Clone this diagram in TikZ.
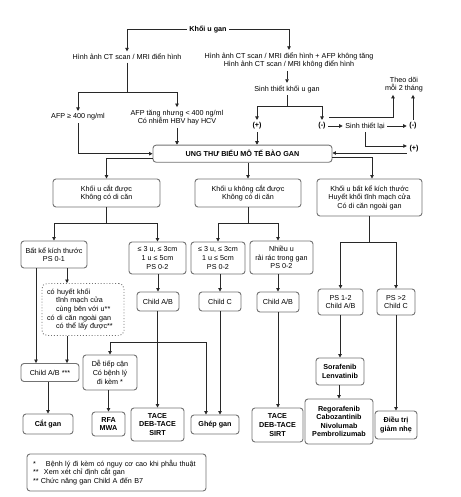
\documentclass[tikz,border=0pt]{standalone}
\usepackage{fontspec}
\setmainfont{Liberation Sans}
\usetikzlibrary{arrows.meta,calc}
\definecolor{boxline}{RGB}{115,115,115}
\definecolor{conn}{RGB}{40,40,40}
\tikzset{
  base/.style={font=\fontsize{7.2}{8.6}\selectfont, align=center, inner sep=1pt},
  txt/.style={base, inner sep=2.5pt},
  btxt/.style={txt, font=\fontsize{7.2}{8.6}\selectfont\bfseries},
  bx/.style={base, draw=boxline, line width=0.9pt, rounded corners=3pt, fill=white},
  bbx/.style={bx, font=\fontsize{7.2}{8.6}\selectfont\bfseries},
  dbx/.style={bx, dotted, rounded corners=5pt},
  arr/.style={draw=conn, line width=0.8pt, -{Triangle[length=3.5pt,width=3.5pt]}},
  ln/.style={draw=conn, line width=0.8pt},
}
\begin{document}
\begin{tikzpicture}[x=1pt,y=-1pt]
\useasboundingbox (0,0) rectangle (460,497);
\fill[white] (0,0) rectangle (460,497);

% top text nodes
\node[btxt] (kug) at (208,29) {Khối u gan};
\node[txt] (h1) at (127,57) {Hình ảnh CT scan / MRI điển hình};
\node[txt] (h2) at (289,60.5) {Hình ảnh CT scan / MRI điển hình + AFP không tăng\\Hình ảnh CT scan / MRI không điển hình};
\node[txt] (afp1) at (78,117) {AFP ≥ 400 ng/ml};
\node[txt] (afp2) at (177,117.5) {AFP tăng nhưng < 400 ng/ml\\Có nhiễm HBV hay HCV};
\node[txt] (stk) at (287,89) {Sinh thiết khối u gan};
\node[btxt] (p1) at (257,126) {(+)};
\node[btxt] (n1) at (322,126) {(-)};
\node[txt] (stl) at (365,126) {Sinh thiết lại};
\node[btxt] (n2) at (413,126) {(-)};
\node[btxt] (p2) at (414,149) {(+)};
\node[txt] (theo) at (404,84.5) {Theo dõi\\mỗi 2 tháng};

% main box
\node[bbx, minimum width=179pt, minimum height=17pt] (ung) at (242.5,153.7) {UNG THƯ BIỂU MÔ TẾ BÀO GAN};

% level 2
\node[bx, minimum width=107pt, minimum height=28pt] (b1) at (106.5,193) {Khối u cắt được\\Không có di căn};
\node[bx, minimum width=106pt, minimum height=28pt] (b2) at (248,193) {Khối u không cắt được\\Không có di căn};
\node[bx, minimum width=105pt, minimum height=37pt] (bat) at (369.5,197.5) {Khối u bất kể kích thước\\Huyết khối tĩnh mạch cửa\\Có di căn ngoài gan};

% level 3
\node[bx, minimum width=66pt, minimum height=27pt] (bk) at (54,254.5) {Bất kể kích thước\\PS 0-1};
\node[bx, minimum width=57pt, minimum height=32pt] (s3a) at (157.5,258) {≤ 3 u, ≤ 3cm\\1 u ≤ 5cm\\PS 0-2};
\node[bx, minimum width=54pt, minimum height=32pt] (s3b) at (218,258) {≤ 3 u, ≤ 3cm\\1 u ≤ 5cm\\PS 0-2};
\node[bx, minimum width=63pt, minimum height=33pt] (nh) at (281.5,257.5) {Nhiều u\\rải rác trong gan\\PS 0-2};

% level 4
\node[bx, minimum width=42pt, minimum height=19pt] (cab1) at (158,301.5) {Child A/B};
\node[bx, minimum width=42pt, minimum height=19pt] (cc) at (220,301.5) {Child C};
\node[bx, minimum width=42pt, minimum height=20pt] (cab2) at (278,302) {Child A/B};
\node[bx, minimum width=45pt, minimum height=26pt] (pa) at (340.5,302) {PS 1-2\\Child A/B};
\node[bx, minimum width=38pt, minimum height=26pt] (pc) at (396,302) {PS >2\\Child C};
\node[dbx, text width=72pt, align=left, inner xsep=5pt, minimum height=52pt] (dot) at (83,309.5) {có huyết khối\\\hspace*{9pt}tĩnh mạch cửa\\\hspace*{9pt}cùng bên với u**\\có di căn ngoài gan\\\hspace*{9pt}có thể lấy được**};

% level 5
\node[bx, minimum width=58pt, minimum height=18pt] (cab3) at (50,372.5) {Child A/B ***};
\node[bx, minimum width=54pt, minimum height=35pt] (de) at (110,372.5) {Dễ tiếp cận\\Có bệnh lý\\đi kèm *};
\node[bbx, minimum width=48pt, minimum height=27pt] (sora) at (340,371.5) {Sorafenib\\Lenvatinib};

% treatments
\node[bbx, minimum width=50pt, minimum height=20pt] (cat) at (48,424) {Cắt gan};
\node[bbx, minimum width=33pt, minimum height=24pt] (rfa) at (108.5,424) {RFA\\MWA};
\node[bbx, minimum width=53pt, minimum height=33pt] (tace1) at (157.5,424.5) {TACE\\DEB-TACE\\SIRT};
\node[bbx, minimum width=48pt, minimum height=19pt] (ghep) at (215,424.5) {Ghép gan};
\node[bbx, minimum width=51pt, minimum height=34pt] (tace2) at (277.5,425) {TACE\\DEB-TACE\\SIRT};
\node[bbx, minimum width=68pt, minimum height=45pt] (rego) at (339,421.5) {Regorafenib\\Cabozantinib\\Nivolumab\\Pembrolizumab};
\node[bbx, minimum width=42pt, minimum height=28pt] (dieu) at (396,425) {Điều trị\\giảm nhẹ};

% legend
\node[bx, text width=167pt, align=left, inner xsep=6pt, minimum height=37pt] (leg) at (116.5,472.5) {\makebox[13pt][l]{*}Bệnh lý đi kèm có nguy cơ cao khi phẫu thuật\\\makebox[11pt][l]{**}Xem xét chỉ định cắt gan\\*** Chức năng gan Child A đến B7};

% connectors top
\draw[arr] (kug.west) -| (h1.north);
\draw[arr] (kug.east) -| (h2.north);
\coordinate (j1) at (127,92);
\draw[ln] (h1.south) -- (j1);
\draw[arr] (j1) -| (afp1.north);
\draw[arr] (j1) -| (afp2.north);
\draw[arr] (h2.south -| stk.north) -- (stk.north);
\coordinate (j2) at (287,106);
\draw[ln] (stk.south) -- (j2);
\draw[arr] (j2) -| (p1.north);
\draw[arr] (j2) -| (n1.north);
\draw[arr] (n1.east) -- (stl.west);
\draw[arr] (stl.east) -- (n2.west);
\coordinate (c1) at (329,117);
\draw[arr] (c1) -| ([xshift=-11pt]theo.south);
\draw[arr] (n2.north) -- (n2.north |- theo.south);
\draw[arr] (stl.south) |- ([yshift=3pt]p2.west);
\coordinate (p2l) at ([yshift=-4pt]p2.west);
\draw[arr] (p2l) -- (p2l -| ung.east);
\draw[arr] ([yshift=-3.5pt]ung.east) -| ([xshift=2.5pt]bat.north);
\draw[arr] (afp1.south) |- (ung.west);
\draw[arr] (afp2.south) -- (afp2.south |- ung.north);
\draw[arr] (p1.south) -- (p1.south |- ung.north);
\draw[arr] ([yshift=-5pt]ung.west) -| (b1.north);
\draw[arr] (ung.south -| b2.north) -- (b2.north);

% level 2 -> 3
\coordinate (j3) at (106.5,223);
\draw[ln] (b1.south) -- (j3);
\draw[arr] (j3) -| (bk.north);
\draw[arr] (j3) -| (s3a.north);
\coordinate (j4) at (248,223);
\draw[ln] (b2.south) -- (j4);
\draw[arr] (j4) -| (s3b.north);
\draw[arr] (j4) -| ([xshift=-3.5pt]nh.north);
\coordinate (j5) at (369.5,242);
\draw[ln] (bat.south) -- (j5);
\draw[arr] (j5) -| (pa.north);
\draw[arr] (j5) -| (pc.north);

% level 3 -> 4
\draw[arr] (s3a.south -| cab1.north) -- (cab1.north);
\draw[arr] (cc.north |- s3b.south) -- (cc.north);
\draw[arr] (nh.south -| cab2.north) -- (cab2.north);
\draw[arr] (pa.south -| sora.north) -- (sora.north);
\draw[arr] (sora.south -| rego.north) -- (rego.north);
\draw[arr] (pc.south) -- (dieu.north);

% left bottom
\coordinate (xa) at (36,0);
\coordinate (xb) at (67,0);
\draw[arr] (bk.south -| xb) -- (dot.north -| xb);
\draw[arr] (bk.south -| xa) -- (cab3.north -| xa);
\draw[arr] (dot.south -| xb) -- (cab3.north -| xb);
\draw[arr] (cab3.south -| cat.north) -- (cat.north);
\draw[arr] (cab1.south -| tace1.north) -- (tace1.north);
\coordinate (j6) at (158,342);
\coordinate (xg) at (206,0);
\draw[arr] (j6) -| (de.north);
\draw[arr] (j6) -| (ghep.north -| xg);
\draw[arr] (de.south -| rfa.north) -- (rfa.north);
\draw[arr] (cc.south) -- (cc.south |- ghep.north);
\draw[arr] (cab2.south) -- (cab2.south |- tace2.north);
\end{tikzpicture}
\end{document}
